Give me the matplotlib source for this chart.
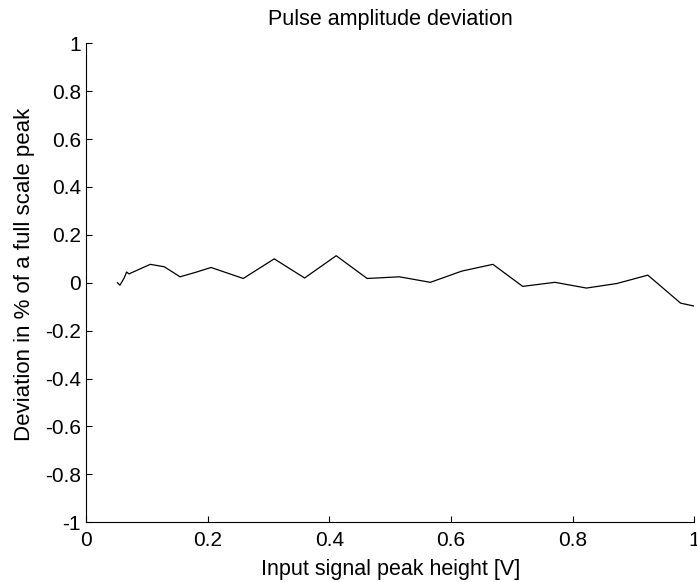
import matplotlib
matplotlib.use("Agg")
import matplotlib.pyplot as plt
from matplotlib.ticker import FuncFormatter

plt.rcParams['font.family'] = ['Liberation Sans', 'DejaVu Sans']
plt.rcParams['axes.unicode_minus'] = False

x_vals = [0.051, 0.055, 0.062, 0.066, 0.070, 0.075, 0.105, 0.128, 0.154, 0.180,
          0.205, 0.258, 0.309, 0.359, 0.411, 0.462, 0.515, 0.566, 0.618, 0.669,
          0.718, 0.771, 0.823, 0.873, 0.924, 0.978, 1.000]
y_vals = [0.000, -0.010, 0.020, 0.045, 0.037, 0.043, 0.077, 0.067, 0.025, 0.044,
          0.064, 0.018, 0.100, 0.020, 0.113, 0.018, 0.025, 0.002, 0.049, 0.077,
          -0.015, 0.002, -0.022, -0.003, 0.032, -0.085, -0.097]
x_ticks = [0, 0.2, 0.4, 0.6, 0.8, 1]
y_ticks = [-1, -0.8, -0.6, -0.4, -0.2, 0, 0.2, 0.4, 0.6, 0.8, 1]

fig = plt.figure(figsize=(6.97, 5.82), dpi=100)
ax = fig.add_axes([0.1241, 0.1026, 0.8716, 0.8230])
ax.plot(x_vals, y_vals, color='black', linewidth=0.9)
ax.set_xlim(0, 1)
ax.set_ylim(-1, 1)
ax.set_xticks(x_ticks)
ax.set_yticks(y_ticks)
fmt = FuncFormatter(lambda v, p: ('%g' % round(v, 2)))
ax.xaxis.set_major_formatter(fmt)
ax.yaxis.set_major_formatter(fmt)
for s in ['top', 'right']:
    ax.spines[s].set_visible(False)
for s in ['left', 'bottom']:
    ax.spines[s].set_linewidth(0.8)
ax.tick_params(direction='in', length=4, width=0.8, labelsize=15)
ax.tick_params(axis='x', pad=6)
ax.tick_params(axis='y', pad=4)
ax.set_xlabel('Input signal peak height [V]', fontsize=15.5, labelpad=7)
ax.set_ylabel('Deviation in % of a full scale peak', fontsize=16, labelpad=7)
ax.yaxis.label.set_y(0.518)
ax.set_title('Pulse amplitude deviation', fontsize=15.5, pad=13)
fig.savefig('out.png', dpi=100)
